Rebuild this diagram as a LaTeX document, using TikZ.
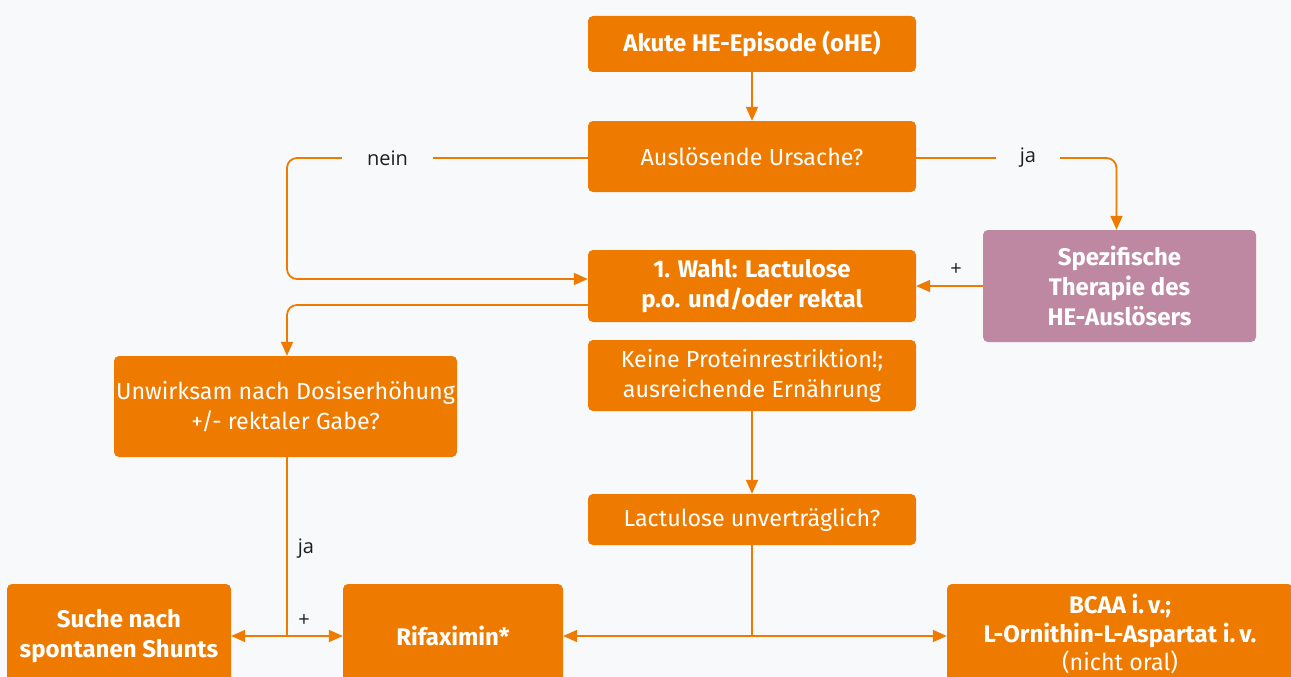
\documentclass[tikz,border=0pt]{standalone}
\usepackage{fontspec}
\setmainfont{Fira Sans}
\newfontfamily\labfont{Open Sans}
\usetikzlibrary{arrows.meta}
\definecolor{org}{HTML}{EE7A00}
\definecolor{pur}{HTML}{BE88A2}
\definecolor{bg}{HTML}{F8F9FB}
\definecolor{lbl}{HTML}{1E1E1E}
\begin{document}
\begin{tikzpicture}[x=1pt,y=-1pt,
  box/.style={fill=org, rounded corners=5pt, text=white, align=center, inner sep=0pt, font=\fontsize{23.3}{30}\selectfont},
  bbox/.style={box, font=\fontsize{24}{30}\selectfont\bfseries},
  pbox/.style={bbox, fill=pur},
  conn/.style={draw=org, line width=1.8pt},
  arr/.style={conn, -{Triangle[length=14pt,width=12pt]}},
  arrb/.style={conn, {Triangle[length=14pt,width=12pt]}-{Triangle[length=14pt,width=12pt]}},
  lab/.style={font=\labfont\fontsize{20}{24}\selectfont, text=lbl, inner sep=0pt}]
\fill[bg] (0,0) rectangle (1291,677);
\useasboundingbox (0,0) rectangle (1291,677);
\clip (0,0) rectangle (1291,677);

\node[bbox, minimum width=328pt, minimum height=56pt] (A) at (752,44) {Akute HE-Episode (oHE)};
\node[box, minimum width=328pt, minimum height=71pt] (B) at (752,156.5) {Auslösende Ursache?};
\node[bbox, minimum width=328pt, minimum height=72pt] (C) at (752,286) {1. Wahl: Lactulose\\p.o. und/oder rektal};
\node[box, minimum width=328pt, minimum height=71pt] (D) at (752,375.5) {Keine Proteinrestriktion!;\\ausreichende Ernährung};
\node[box, minimum width=328pt, minimum height=51pt] (E) at (752,519.5) {Lactulose unverträglich?};
\node[pbox, minimum width=273pt, minimum height=112pt] (F) at (1119.5,286) {Spezifische\\Therapie des\\HE-Auslösers};
\node[box, minimum width=343pt, minimum height=101pt] (G) at (285.5,406.5) {Unwirksam nach Dosiserhöhung\\+/- rektaler Gabe?};
\node[bbox, minimum width=224pt, minimum height=104pt] (H) at (119,636) {Suche nach\\spontanen Shunts};
\node[bbox, minimum width=220pt, minimum height=104pt] (I) at (453,636) {Rifaximin*};
\node[bbox, minimum width=346pt, minimum height=100pt, font=\fontsize{24}{28.5}\selectfont\bfseries] (J) at (1120,634) {BCAA i.\,v.;\\L-Ornithin-L-Aspartat i.\,v.\\\fontsize{23.3}{28.5}\selectfont\mdseries (nicht oral)};

\coordinate (gx) at (287,0);
\draw[arr] (A) -- (B);
\draw[conn, rounded corners=10pt, -{Triangle[length=14pt,width=12pt]}] ([yshift=-1.5pt]B.west) -- ([yshift=-1.5pt]gx |- B.west) -- ([yshift=7pt]gx |- C.west) -- ([yshift=7pt]C.west);
\node[lab, fill=bg, minimum width=91pt, minimum height=20pt] (nein) at (387.5,158) {nein};
\draw[conn, rounded corners=10pt, -{Triangle[length=14pt,width=12pt]}] ([yshift=-1.5pt]B.east) -- ([xshift=-3pt,yshift=-1.5pt]F.north |- B.east) -- ([xshift=-3pt]F.north);
\node[lab, fill=bg, minimum width=64pt, minimum height=20pt] (ja1) at (1028,158) {ja};
\draw[arr] (F.west) -- (C.east);
\node[lab] (plus1) at (956,270) {+};
\draw[conn, rounded corners=10pt, -{Triangle[length=14pt,width=12pt]}] ([yshift=-19pt]C.west) -- ([yshift=-19pt]gx |- C.west) -- (gx |- G.north);
\draw[arr] (D) -- (E);
\draw[conn] (gx |- G.south) -- (gx |- H.east);
\draw[arrb] (H.east) -- (I.west);
\node[lab] (ja2) at (306,549) {ja};
\node[lab] (plus2) at (304,621) {+};
\draw[conn] (E.south) -- (E.south |- I.east);
\draw[arrb] (I.east) -- (J.west |- I.east);
\end{tikzpicture}
\end{document}
